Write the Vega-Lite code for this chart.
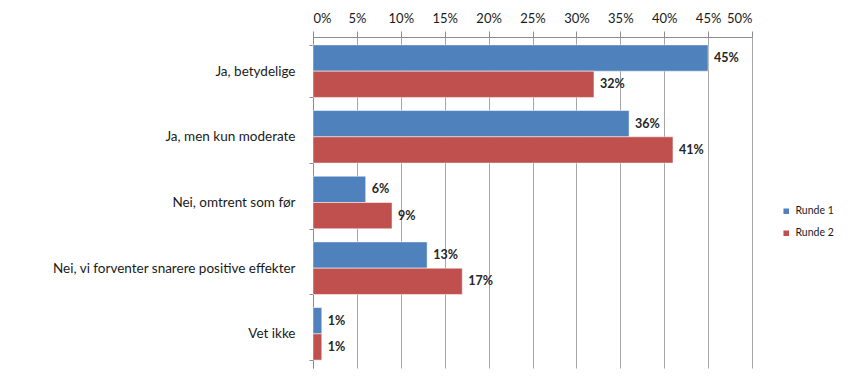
{
  "$schema": "https://vega.github.io/schema/vega-lite/v6.json",
  "width": 439,
  "height": 331,
  "autosize": {"type": "none"},
  "padding": {"left": 313, "top": 37, "right": 96, "bottom": 12},
  "background": "white",
  "config": {
    "view": {"stroke": null},
    "font": "Lato"
  },
  "data": {
    "values": [
      {"kategori": "Ja, betydelige", "runde": "Runde 1", "andel": 0.45, "tekst": "45%"},
      {"kategori": "Ja, betydelige", "runde": "Runde 2", "andel": 0.32, "tekst": "32%"},
      {"kategori": "Ja, men kun moderate", "runde": "Runde 1", "andel": 0.36, "tekst": "36%"},
      {"kategori": "Ja, men kun moderate", "runde": "Runde 2", "andel": 0.41, "tekst": "41%"},
      {"kategori": "Nei, omtrent som før", "runde": "Runde 1", "andel": 0.06, "tekst": "6%"},
      {"kategori": "Nei, omtrent som før", "runde": "Runde 2", "andel": 0.09, "tekst": "9%"},
      {"kategori": "Nei, vi forventer snarere positive effekter", "runde": "Runde 1", "andel": 0.13, "tekst": "13%"},
      {"kategori": "Nei, vi forventer snarere positive effekter", "runde": "Runde 2", "andel": 0.17, "tekst": "17%"},
      {"kategori": "Vet ikke", "runde": "Runde 1", "andel": 0.01, "tekst": "1%"},
      {"kategori": "Vet ikke", "runde": "Runde 2", "andel": 0.01, "tekst": "1%"}
    ]
  },
  "encoding": {
    "y": {
      "field": "kategori",
      "type": "nominal",
      "sort": null,
      "title": null,
      "scale": {"paddingInner": 0.2, "paddingOuter": 0.12},
      "axis": {
        "tickBand": "extent",
        "labelFontSize": 13.5,
        "labelColor": "#1a1a1a",
        "labelPadding": 14,
        "labelLimit": 320,
        "domainColor": "#8c8c8c",
        "tickColor": "#8c8c8c",
        "tickSize": 4,
        "grid": false
      }
    },
    "yOffset": {"field": "runde", "type": "nominal", "scale": {"paddingInner": 0}},
    "x": {
      "field": "andel",
      "type": "quantitative",
      "title": null,
      "scale": {"domain": [0, 0.5], "nice": false},
      "axis": {
        "orient": "top",
        "format": ".0%",
        "values": [0, 0.05, 0.1, 0.15, 0.2, 0.25, 0.3, 0.35, 0.4, 0.45, 0.5],
        "labelFontSize": 13,
        "labelColor": "#1a1a1a",
        "labelPadding": 6,
        "domainColor": "#8c8c8c",
        "tickColor": "#8c8c8c",
        "tickSize": 6,
        "gridColor": "#a6a6a6",
        "gridWidth": 1,
        "grid": true
      }
    }
  },
  "layer": [
    {
      "mark": {"type": "bar", "stroke": "white", "strokeWidth": 0.5},
      "encoding": {
        "color": {
          "field": "runde",
          "type": "nominal",
          "scale": {"domain": ["Runde 1", "Runde 2"], "range": ["#4F81BD", "#C0504D"]},
          "legend": {
            "title": null,
            "orient": "none",
            "legendX": 468,
            "legendY": 169,
            "symbolType": "square",
            "symbolSize": 50,
            "labelFontSize": 10.5,
            "labelColor": "#1a1a1a",
            "rowPadding": 8
          }
        }
      }
    },
    {
      "mark": {"type": "text", "align": "left", "dx": 6, "fontSize": 12.5, "fontWeight": "bold", "color": "#262626"},
      "encoding": {
        "text": {"field": "tekst"}
      }
    }
  ]
}
